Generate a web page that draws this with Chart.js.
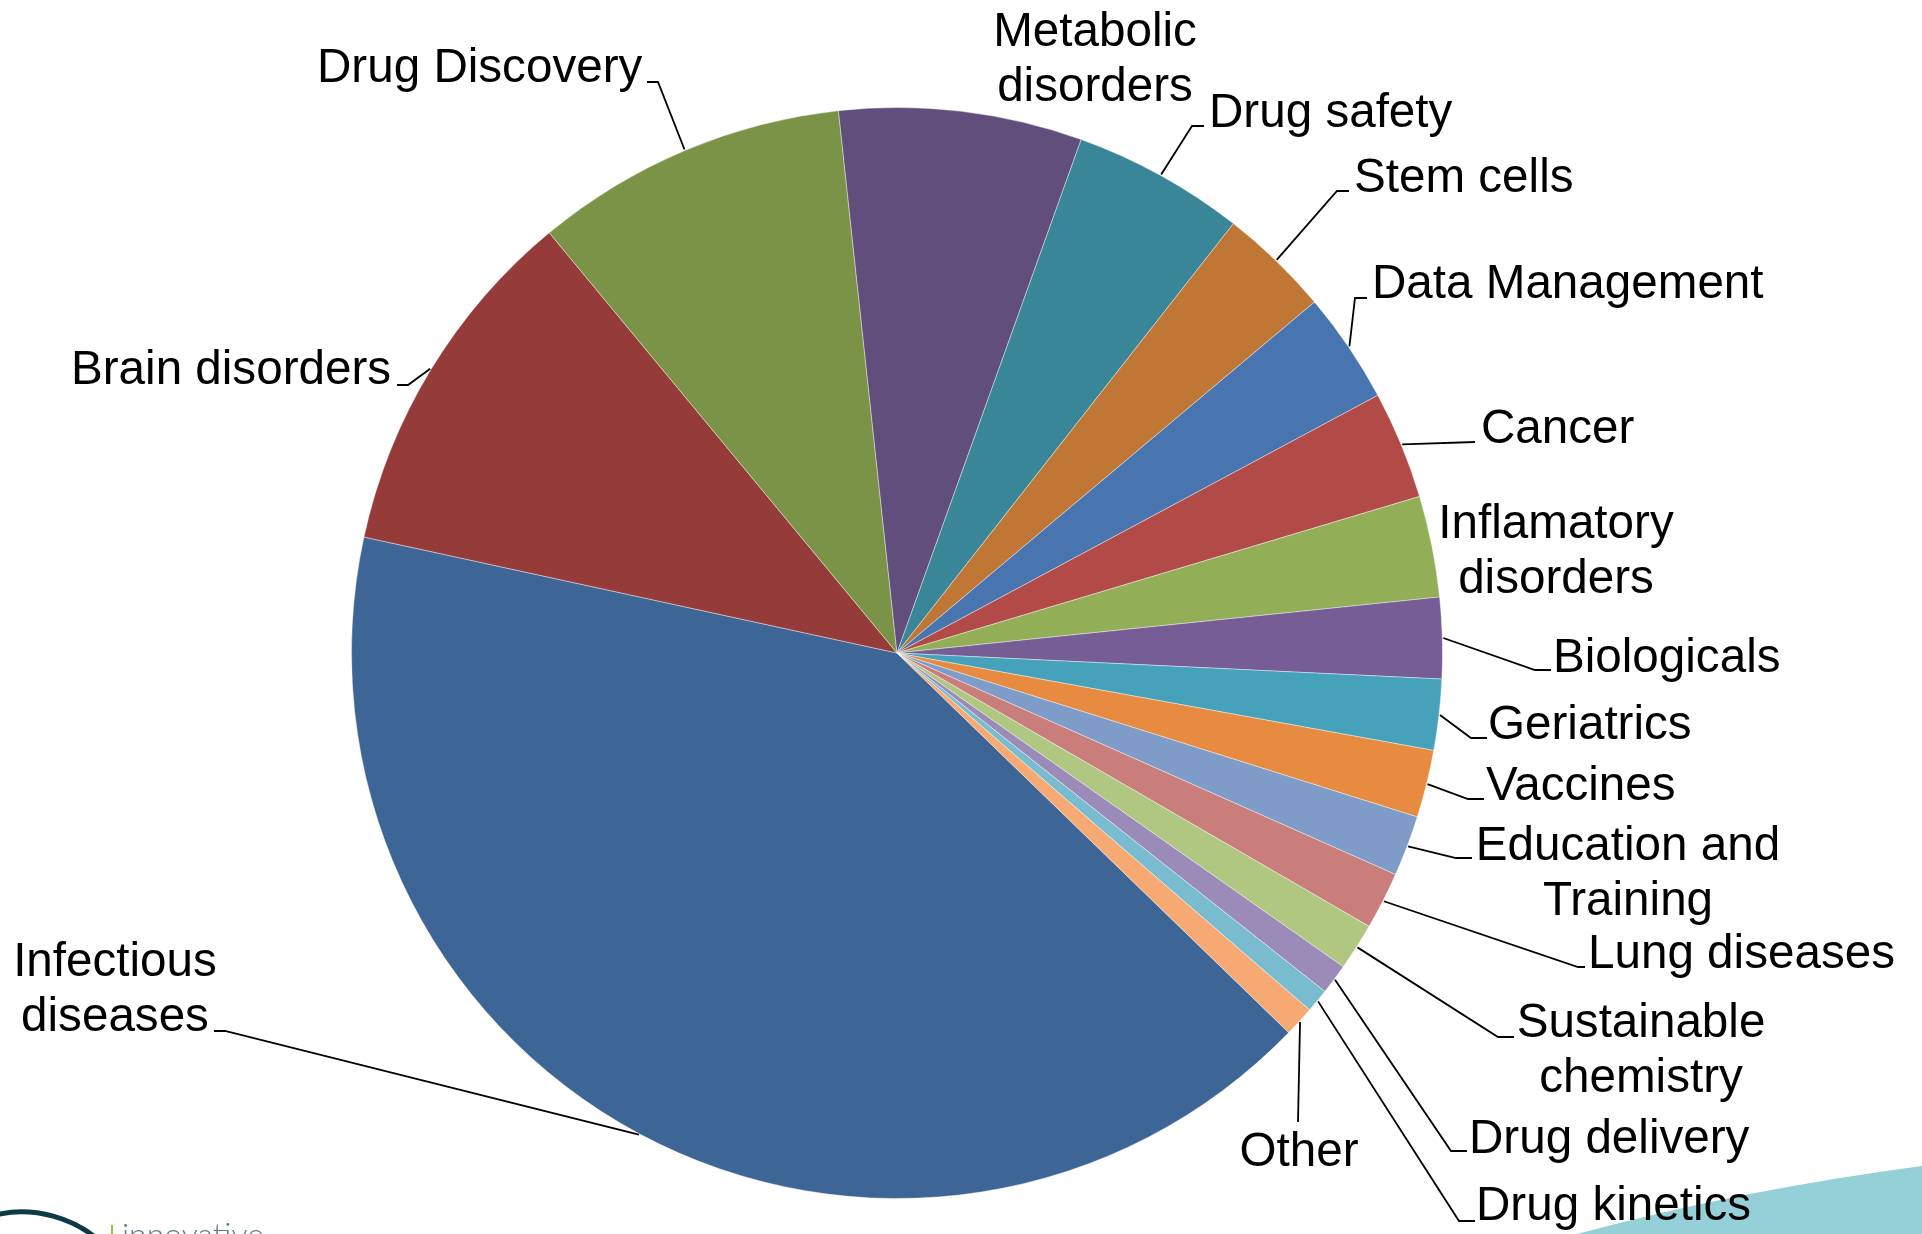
<!DOCTYPE html>
<html>
<head>
<meta charset="utf-8">
<title>Projects by area</title>
<script src="https://cdn.jsdelivr.net/npm/chart.js@4/dist/chart.umd.min.js"></script>
<style>
  html, body { margin: 0; padding: 0; background: #ffffff; overflow: hidden; }
  #wrap { position: relative; width: 1922px; height: 1234px; }
</style>
</head>
<body>
<div id="wrap">
  <canvas id="grafico" width="1922" height="1234"></canvas>
</div>
<script>
"use strict";
// Datos (porcentaje del total)
const categorias = [
    "Infectious diseases", "Brain disorders", "Drug Discovery", "Metabolic disorders",
    "Drug safety", "Stem cells", "Data Management", "Cancer", "Inflamatory disorders",
    "Biologicals", "Geriatrics", "Vaccines", "Education and Training", "Lung diseases",
    "Sustainable chemistry", "Drug delivery", "Drug kinetics", "Other"
];
const valores = [41.2, 10.6, 9.3, 7.2, 5.1, 3.3, 3.3, 3.2, 3.0, 2.4, 2.1, 2.0, 1.8, 1.7, 1.4, 0.9, 0.7, 0.9];
// Texto de las etiquetas tal como aparece (con saltos de línea)
const etiquetas = [
    ["Infectious", "diseases"], ["Brain disorders"], ["Drug Discovery"], ["Metabolic", "disorders"],
    ["Drug safety"], ["Stem cells"], ["Data Management"], ["Cancer"], ["Inflamatory", "disorders"],
    ["Biologicals"], ["Geriatrics"], ["Vaccines"], ["Education and", "Training"], ["Lung diseases"],
    ["Sustainable", "chemistry"], ["Drug delivery"], ["Drug kinetics"], ["Other"]
];
const colores = [
    "#3d6596", "#953b3a", "#7b9346", "#614e7d", "#398698", "#c07635", "#4875af", "#b24b48", "#92af57",
    "#765d96", "#46a2bb", "#e68b40", "#7f9bc8", "#ca7e7c", "#b0c781", "#9a8bb8", "#79bcd0", "#f7a973"
];

// Posición de las etiquetas: [x, baseline, align, codoX, codoY, finX]  (null = sin línea guía)
const posEtiquetas = [
    [115, 976, "center", 225, 1031, 214],
    [71, 384, "left", 408, 385, 397],
    [317, 82, "left", 658, 82, 647],
    [1095, 46, "center", null],
    [1209, 127, "left", 1192, 126, 1204],
    [1354, 192, "left", 1337, 191, 1349],
    [1372, 298, "left", 1355, 298, 1367],
    [1481, 443, "left", 1475, 442, 1475],
    [1556, 538, "center", null],
    [1553, 672, "left", 1535, 670, 1551],
    [1488, 739, "left", 1471, 738, 1487],
    [1486, 800, "left", 1468, 799, 1484],
    [1628, 860, "center", 1456, 858, 1472],
    [1588, 968, "left", 1578, 967, 1585],
    [1641, 1037, "center", 1498, 1037, 1514],
    [1469, 1153, "left", 1451, 1151, 1467],
    [1476, 1220, "left", 1459, 1221, 1475],
    [1299, 1166, "center", 1298, 1122, 1298]
];
const FUENTE = "47.6px 'Liberation Sans', Arial, sans-serif";
const INTERLINEA = 55;

// Decoración de la diapositiva (logo y franja inferior), debajo de las etiquetas
const pluginDecoracion = {
    id: "decoracion",
    afterDraw(chart) {
        const ctx = chart.ctx;
        ctx.save();
        ctx.fillStyle = "#95cfd8";
        ctx.beginPath();
        ctx.moveTo(1577, 1234);
        ctx.quadraticCurveTo(1740, 1190, 1922, 1166);
        ctx.lineTo(1922, 1234);
        ctx.closePath();
        ctx.fill();

        ctx.strokeStyle = "#0e3a45";
        ctx.lineWidth = 5;
        ctx.beginPath();
        ctx.arc(22, 1330, 118, -Math.PI * 0.62, -Math.PI * 0.21);
        ctx.stroke();

        ctx.fillStyle = "#8dc63f";
        ctx.fillRect(111, 1225, 2, 9);
        ctx.fillStyle = "#5d7d86";
        ctx.font = "300 32px Lato, 'Open Sans', sans-serif";
        ctx.textAlign = "left";
        ctx.fillText("innovative", 122, 1246);
        ctx.restore();
    }
};

const pluginEtiquetas = {
    id: "etiquetas",
    afterDraw(chart) {
        const ctx = chart.ctx;
        const arcos = chart.getDatasetMeta(0).data;
        ctx.save();
        // Líneas guía desde el borde de cada porción
        ctx.strokeStyle = "#000000";
        ctx.lineWidth = 1.8;
        arcos.forEach((arco, i) => {
            const p = posEtiquetas[i];
            if (p[3] === null || p[3] === undefined) return;
            const { x, y, startAngle, endAngle, outerRadius } = arco.getProps(["x", "y", "startAngle", "endAngle", "outerRadius"], true);
            const medio = (startAngle + endAngle) / 2;
            const r = outerRadius + 1;
            ctx.beginPath();
            ctx.moveTo(x + Math.cos(medio) * r, y + Math.sin(medio) * r);
            ctx.lineTo(p[3], p[4]);
            ctx.lineTo(p[5], p[4]);
            ctx.stroke();
        });
        // Texto
        ctx.fillStyle = "#000000";
        ctx.font = FUENTE;
        ctx.textBaseline = "alphabetic";
        etiquetas.forEach((lineas, i) => {
            const p = posEtiquetas[i];
            ctx.textAlign = p[2];
            lineas.forEach((linea, j) => {
                ctx.fillText(linea, p[0], p[1] + j * INTERLINEA);
            });
        });
        ctx.restore();
    }
};

const ctx = document.getElementById("grafico");
const grafico = new Chart(ctx, {
    type: "pie",
    data: {
        labels: categorias,
        datasets: [{
            data: valores,
            backgroundColor: colores,
            borderColor: "rgba(255,255,255,0.4)",
            borderWidth: 1
        }]
    },
    options: {
        responsive: false,
        animation: false,
        rotation: 134.1,
        layout: { padding: { left: 351, right: 479, top: 107, bottom: 35 } },
        plugins: {
            legend: { display: false },
            tooltip: { enabled: false }
        }
    },
    plugins: [pluginDecoracion, pluginEtiquetas]
});
</script>
</body>
</html>
